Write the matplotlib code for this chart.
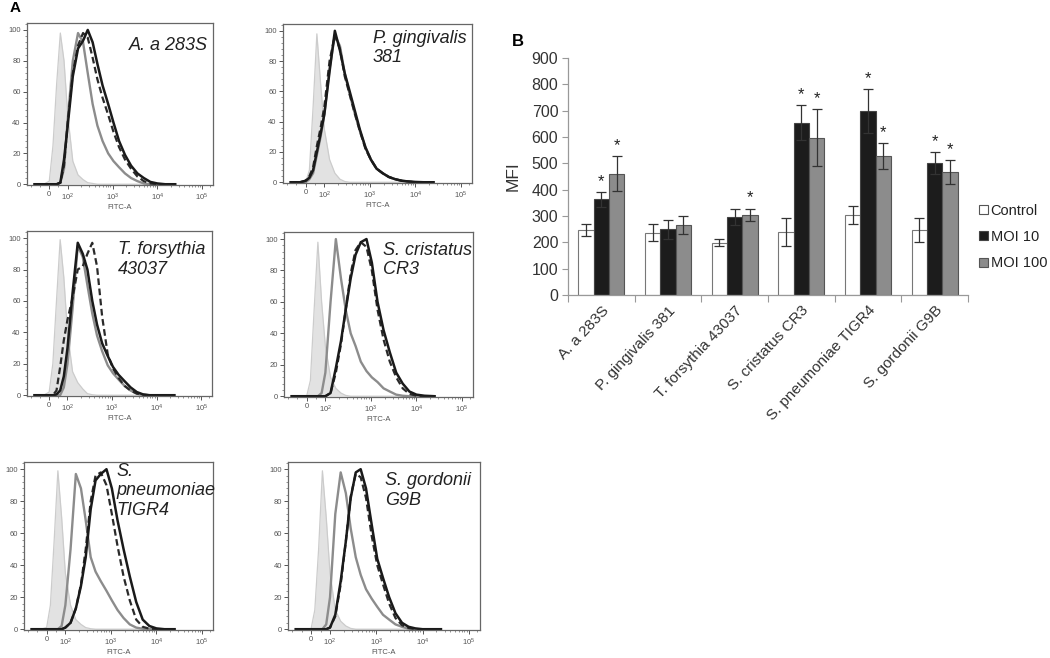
import numpy as np
import matplotlib
matplotlib.use("Agg")
import matplotlib.pyplot as plt
from matplotlib.patches import Patch
from matplotlib.ticker import FixedLocator, MultipleLocator

plt.rcParams['font.family'] = ['Liberation Sans', 'DejaVu Sans']
plt.rcParams['mathtext.fontset'] = 'custom'
plt.rcParams['mathtext.rm'] = 'Liberation Sans'
plt.rcParams['mathtext.it'] = 'Liberation Sans:italic'

# ---------------- Panel A data (FITC-A histograms, % of max) ----------------
fitc = [-80, -30, 0, 20, 40, 60, 80, 100, 130, 170, 220, 280, 360, 460, 600,
        800, 1050, 1400, 1900, 2600, 3600, 5000, 7000, 10000, 15000, 25000]

aa_iso = [0, 0, 2, 25, 65, 98, 80, 45, 15, 6, 3, 1, 0.5, 0, 0, 0, 0, 0, 0, 0, 0, 0, 0, 0, 0, 0]
aa_ctrl = [0, 0, 0, 0, 0, 1, 10, 42, 80, 98, 92, 72, 52, 38, 28, 20, 15, 11, 7, 4, 2, 0.5, 0, 0, 0, 0]
aa_moi10 = [0, 0, 0, 0, 0, 1, 16, 38, 70, 88, 93, 100, 92, 78, 64, 52, 40, 28, 19, 12, 7, 4, 1.5, 0.5, 0, 0]
aa_moi100 = [0, 0, 0, 0, 0, 1, 12, 40, 72, 90, 98, 95, 82, 68, 56, 45, 34, 24, 16, 10, 5, 2, 0.5, 0, 0, 0]

pg_iso = [0, 0, 0, 8, 50, 98, 65, 35, 15, 6, 2, 0.5, 0, 0, 0, 0, 0, 0, 0, 0, 0, 0, 0, 0, 0, 0]
pg_ctrl = [0, 0, 0, 2, 6, 18, 30, 45, 75, 97, 90, 72, 58, 46, 34, 23, 15, 9, 6, 3.5, 2, 1, 0.5, 0, 0, 0]
pg_moi10 = [0, 0, 1, 3, 8, 20, 32, 45, 73, 100, 87, 72, 60, 48, 35, 23, 15, 9, 6, 3.5, 2, 1, 0.5, 0.2, 0, 0]
pg_moi100 = [0, 0, 1, 4, 10, 24, 36, 50, 80, 97, 88, 70, 58, 46, 34, 22, 15, 9, 6, 3.5, 2, 1, 0.5, 0, 0, 0]

tf_iso = [0, 0, 2, 20, 60, 99, 75, 40, 15, 8, 4, 1, 0.3, 0, 0, 0, 0, 0, 0, 0, 0, 0, 0, 0, 0, 0]
tf_ctrl = [0, 0, 0, 0, 0, 0, 5, 20, 55, 95, 88, 70, 52, 38, 28, 19, 14, 10, 6, 3, 1, 0, 0, 0, 0, 0]
tf_moi10 = [0, 0, 0, 0, 0.5, 3, 12, 30, 65, 97, 90, 80, 60, 45, 33, 25, 18, 13, 9, 5, 2, 0.5, 0, 0, 0, 0]
tf_moi100 = [0, 0, 0, 0, 3, 18, 35, 48, 62, 80, 82, 90, 97, 82, 50, 26, 17, 11, 6, 3, 1, 0.3, 0, 0, 0, 0]

sc_iso = [0, 0, 0, 10, 55, 98, 60, 32, 12, 5, 2, 0.5, 0, 0, 0, 0, 0, 0, 0, 0, 0, 0, 0, 0, 0, 0]
sc_ctrl = [0, 0, 0, 0, 0, 0, 2, 15, 60, 100, 75, 55, 40, 32, 22, 16, 12, 9, 5, 3, 1, 0.3, 0, 0, 0, 0]
sc_moi10 = [0, 0, 0, 0, 0, 0, 0, 0, 2, 18, 35, 55, 75, 90, 98, 100, 85, 60, 42, 28, 15, 8, 3, 1, 0.3, 0]
sc_moi100 = [0, 0, 0, 0, 0, 0, 0, 0, 2, 15, 33, 55, 78, 93, 98, 95, 80, 55, 36, 22, 12, 5, 1.5, 0.3, 0, 0]

sp_iso = [0, 0, 1, 15, 55, 99, 70, 35, 15, 6, 3, 1, 0.3, 0, 0, 0, 0, 0, 0, 0, 0, 0, 0, 0, 0, 0]
sp_ctrl = [0, 0, 0, 0, 0, 0, 2, 15, 50, 97, 88, 68, 45, 36, 30, 24, 18, 12, 7, 3, 1, 0.3, 0, 0, 0, 0]
sp_moi10 = [0, 0, 0, 0, 0, 0, 0, 1, 4, 13, 27, 45, 75, 93, 97, 100, 88, 68, 50, 33, 17, 6, 2, 0.5, 0, 0]
sp_moi100 = [0, 0, 0, 0, 0, 0, 0, 1, 4, 13, 28, 50, 80, 96, 98, 90, 72, 52, 33, 18, 6, 1.5, 0.3, 0, 0, 0]

sg_iso = [0, 0, 0, 12, 50, 99, 70, 35, 12, 5, 2, 0.5, 0, 0, 0, 0, 0, 0, 0, 0, 0, 0, 0, 0, 0, 0]
sg_ctrl = [0, 0, 0, 0, 0, 0, 3, 20, 72, 98, 85, 63, 45, 34, 25, 19, 14, 9, 6, 3, 1.5, 0.3, 0, 0, 0, 0]
sg_moi10 = [0, 0, 0, 0, 0, 0, 0, 1, 9, 30, 55, 82, 98, 100, 88, 65, 44, 32, 20, 10, 4, 1.5, 0.5, 0, 0, 0]
sg_moi100 = [0, 0, 0, 0, 0, 0, 0, 1, 8, 28, 55, 83, 97, 95, 82, 58, 40, 28, 16, 7, 2.5, 0.8, 0, 0, 0, 0]

hist_titles = ["A. a 283S", "P. gingivalis\n381", "T. forsythia\n43037",
               "S. cristatus\nCR3", "S.\npneumoniae\nTIGR4", "S. gordonii\nG9B"]
x_ticks = [0, 1e2, 1e3, 1e4, 1e5]
x_tick_labels = ["0", "$10^2$", "$10^3$", "$10^4$", "$10^5$"]
y_ticks = [0, 20, 40, 60, 80, 100]

# ---------------- Panel B data ----------------
categories = ["A. a 283S", "P. gingivalis 381", "T. forsythia 43037",
              "S. cristatus CR3", "S. pneumoniae TIGR4", "S. gordonii G9B"]
control = [247, 237, 199, 238, 304, 247]
control_err = [22, 32, 12, 53, 35, 44]
moi10 = [363, 249, 296, 654, 699, 502]
moi10_err = [27, 35, 31, 67, 83, 41]
moi100 = [461, 265, 304, 597, 528, 468]
moi100_err = [65, 34, 24, 108, 50, 45]
sig_moi10 = [True, False, False, True, True, True]
sig_moi100 = [True, False, True, True, True, True]

W, H = 1050, 658
fig = plt.figure(figsize=(W / 100, H / 100), dpi=100)


def px_rect(l, r, t, b):
    return [l / W, 1 - b / H, (r - l) / W, (b - t) / H]


hist_boxes = [px_rect(27, 213, 23, 185), px_rect(283, 472, 24, 183),
              px_rect(27, 212, 231, 396), px_rect(284, 473, 232, 397),
              px_rect(24, 213, 462, 630), px_rect(288, 480, 462, 630)]
title_pos = [(0.973, 0.915, 'right'), (0.476, 0.965, 'left'), (0.49, 0.94, 'left'),
             (0.524, 0.94, 'left'), (0.487, 0.995, 'left'), (0.505, 0.94, 'left')]
hist_data = [(aa_iso, aa_ctrl, aa_moi10, aa_moi100),
             (pg_iso, pg_ctrl, pg_moi10, pg_moi100),
             (tf_iso, tf_ctrl, tf_moi10, tf_moi100),
             (sc_iso, sc_ctrl, sc_moi10, sc_moi100),
             (sp_iso, sp_ctrl, sp_moi10, sp_moi100),
             (sg_iso, sg_ctrl, sg_moi10, sg_moi100)]

minor_x = [-100, -50, 50] + [m * 10 ** k for k in (2, 3, 4) for m in range(2, 10)] + [1.5e5]

for box, (iso, ctrl, m10, m100), title, (tx, ty, ha) in zip(hist_boxes, hist_data, hist_titles, title_pos):
    ax = fig.add_axes(box)
    ax.fill_between(fitc, iso, color='#e2e2e2', lw=0)
    ax.plot(fitc, iso, color='#cccccc', lw=0.9)
    ax.plot(fitc, ctrl, color='#8c8c8c', lw=1.7)
    ax.plot(fitc, m100, color='#2a2a2a', lw=1.6, ls=(0, (3, 1.6)))
    ax.plot(fitc, m10, color='#1a1a1a', lw=1.8)
    ax.set_xscale('symlog', linthresh=100, linscale=0.37)
    ax.set_xlim(-122, 1.75e5)
    ax.set_ylim(-0.5, 104.5)
    ax.xaxis.set_major_locator(FixedLocator(x_ticks))
    ax.set_xticklabels(x_tick_labels)
    ax.xaxis.set_minor_locator(FixedLocator(minor_x))
    ax.set_yticks(y_ticks)
    ax.yaxis.set_minor_locator(MultipleLocator(4))
    ax.tick_params(which='major', length=3, width=0.7, color='#555', labelsize=5.5,
                   labelcolor='#555', pad=1.5)
    ax.tick_params(which='minor', length=1.6, width=0.5, color='#666')
    ax.set_xlabel('FITC-A', fontsize=5.5, color='#555', labelpad=1)
    for s in ax.spines.values():
        s.set_color('#666')
        s.set_linewidth(0.9)
    ax.text(tx, ty, title, transform=ax.transAxes, ha=ha, va='top',
            fontsize=13, style='italic', color='#222', clip_on=False)

fig.text(10 / W, 1 - 8 / H, 'A', fontsize=11, fontweight='bold', ha='left', va='center')
fig.text(512 / W, 1 - 42 / H, 'B', fontsize=12, fontweight='bold', ha='left', va='center')

# ---------------- Panel B ----------------
axb = fig.add_axes(px_rect(568, 968, 58, 295))
x = np.arange(len(categories))
bw = 0.23
err_kw = dict(ecolor='#333', elinewidth=0.9, capsize=3.5, capthick=0.9)
axb.bar(x - bw, control, bw, yerr=control_err, color='white', edgecolor='#777',
        linewidth=0.8, error_kw=err_kw, label='Control')
axb.bar(x, moi10, bw, yerr=moi10_err, color='#1c1c1c', edgecolor='#444',
        linewidth=0.8, error_kw=err_kw, label='MOI 10')
axb.bar(x + bw, moi100, bw, yerr=moi100_err, color='#8c8c8c', edgecolor='#555',
        linewidth=0.8, error_kw=err_kw, label='MOI 100')
for i in range(len(categories)):
    if sig_moi10[i]:
        axb.text(x[i], moi10[i] + moi10_err[i] + 40, '*', ha='center', va='center',
                 fontsize=12, color='#222')
    if sig_moi100[i]:
        axb.text(x[i] + bw, moi100[i] + moi100_err[i] + 40, '*', ha='center', va='center',
                 fontsize=12, color='#222')

axb.set_xlim(-0.5, len(categories) - 0.5)
axb.set_ylim(0, 900)
axb.set_yticks(range(0, 901, 100))
axb.set_xticks(np.arange(len(categories) + 1) - 0.5)
axb.set_xticklabels([])
axb.set_xticks(x, minor=True)
axb.set_xticklabels(categories, minor=True, rotation=47, ha='right', rotation_mode='anchor',
                    fontsize=11, color='#333')
axb.tick_params(axis='x', which='minor', length=0, pad=6)
axb.tick_params(axis='x', which='major', length=5, color='#999', width=0.8)
axb.tick_params(axis='y', length=4, color='#999', width=0.8, labelsize=11.5, labelcolor='#333', pad=3)
for s in ('top', 'right'):
    axb.spines[s].set_visible(False)
for s in ('left', 'bottom'):
    axb.spines[s].set_color('#999')
    axb.spines[s].set_linewidth(0.9)
axb.set_ylabel('MFI', fontsize=12.5, color='#333', labelpad=8)

handles = [Patch(facecolor='white', edgecolor='#555', lw=0.8),
           Patch(facecolor='#1c1c1c', edgecolor='#444', lw=0.8),
           Patch(facecolor='#8c8c8c', edgecolor='#555', lw=0.8)]
fig.legend(handles, ['Control', 'MOI 10', 'MOI 100'], loc='center left',
           bbox_to_anchor=(979 / W, 1 - 237 / H), frameon=False, fontsize=10.5,
           borderpad=0, borderaxespad=0,
           handlelength=0.6, handleheight=0.6, handletextpad=0.2, labelspacing=0.85,
           labelcolor='#222')

fig.savefig('out.png', dpi=100)
